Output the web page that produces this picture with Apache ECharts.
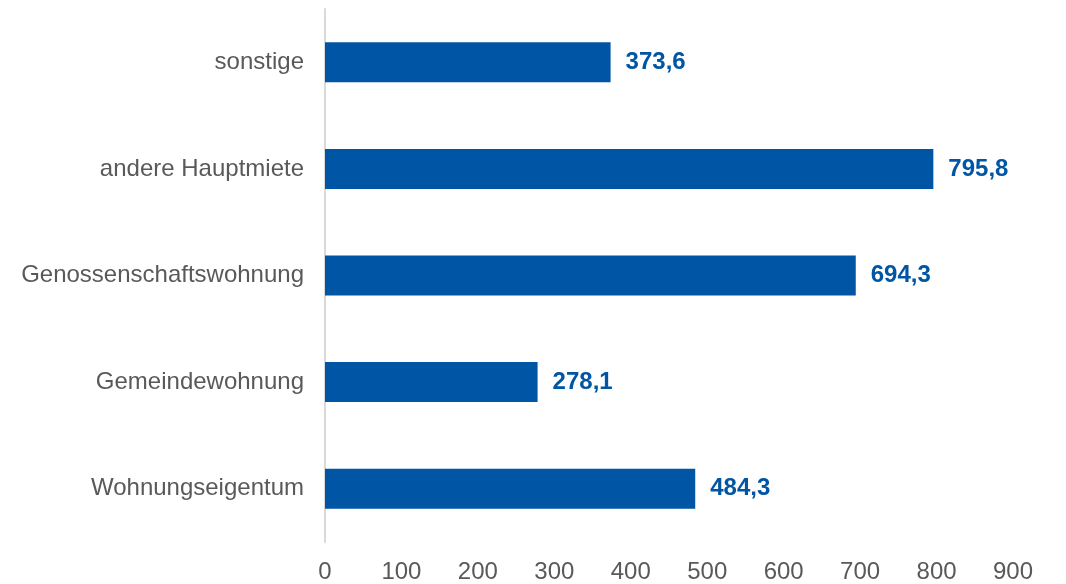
<!DOCTYPE html>
<html><head><meta charset="utf-8">
<script src="https://cdn.jsdelivr.net/npm/echarts@6/dist/echarts.min.js"></script>
<style>html,body{margin:0;padding:0;background:#fff}#c{width:1066px;height:584px}</style>
</head><body><div id="c"></div>
<script>
const categories = ["Wohnungseigentum", "Gemeindewohnung", "Genossenschaftswohnung", "andere Hauptmiete", "sonstige"];
const values = [484.3, 278.1, 694.3, 795.8, 373.6];
const xTicks = [0, 100, 200, 300, 400, 500, 600, 700, 800, 900];

const chart = echarts.init(document.getElementById('c'));
chart.setOption({
  animation: false,
  grid: { left: 325, right: 53, top: 9, bottom: 41 },
  xAxis: {
    type: 'value', min: xTicks[0], max: xTicks[xTicks.length - 1], interval: 100,
    axisLine: { show: false }, axisTick: { show: false }, splitLine: { show: false },
    axisLabel: { color: '#595959', fontSize: 24, fontFamily: 'Liberation Sans, Arial, sans-serif', margin: 18 }
  },
  yAxis: {
    type: 'category', data: categories,
    axisLine: { show: true, lineStyle: { color: '#d9d9d9', width: 2 } },
    axisTick: { show: false },
    axisLabel: { color: '#595959', fontSize: 24, fontFamily: 'Liberation Sans, Arial, sans-serif', margin: 21 }
  },
  series: [{
    type: 'bar', data: values, barWidth: 40,
    itemStyle: { color: '#0055A4' },
    label: {
      show: true, position: 'right', distance: 15,
      color: '#0055A4', fontSize: 24, fontWeight: 'bold',
      fontFamily: 'Liberation Sans, Arial, sans-serif',
      formatter: p => p.value.toFixed(1).replace('.', ',')
    }
  }]
});
</script></body></html>
